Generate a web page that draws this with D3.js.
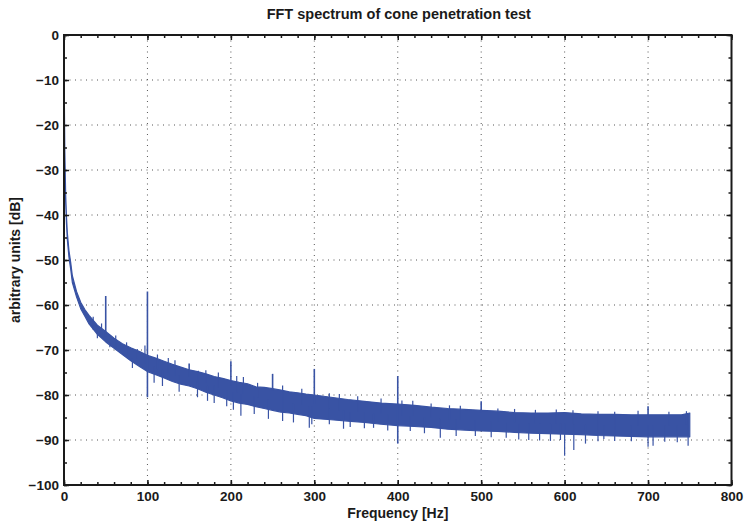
<!DOCTYPE html>
<html>
<head>
<meta charset="utf-8">
<script src="https://cdn.jsdelivr.net/npm/d3@7"></script>
<style>
  body { margin: 0; background: #fff; }
  svg text { font-family: "Liberation Sans", Arial, sans-serif; font-weight: bold; fill: #1a1a1a; }
</style>
</head>
<body>
<svg id="chart" width="745" height="521"></svg>
<script>
'use strict';

// spectrum band: top and bottom of the noise band
const ENV_FREQ = [0, 0.5, 1, 2, 3, 4, 6, 8, 10, 15, 20, 25, 30, 40, 50, 60, 70, 80, 90, 100,
    110, 120, 130, 140, 150, 160, 170, 180, 190, 200, 210, 220, 230, 240, 250, 260, 270, 280, 290, 300,
    320, 340, 360, 380, 400, 420, 440, 460, 480, 500, 520, 540, 560, 580, 600, 620, 640, 660, 680, 700,
    720, 740, 750];
const ENV_UPPER = [0, -16, -26, -35.5, -40.5, -44, -48, -50.5, -53.5, -57, -59.4, -61, -62.3, -64.5, -65.9, -67.4, -68.6, -69.5, -70.3, -71.2,
    -71.8, -72.5, -73.2, -73.8, -74.4, -74.8, -75.3, -75.9, -76.3, -76.8, -77.2, -77.5, -78.2, -78.3, -78.6, -78.9, -79.3, -79.5, -79.8, -80.0,
    -80.5, -81.0, -81.4, -81.8, -82.0, -82.3, -82.7, -83.0, -83.2, -83.4, -83.6, -83.9, -84.0, -84.0, -83.9, -84.2, -84.3, -84.3, -84.4, -84.4,
    -84.4, -84.4, -84.0];
const ENV_LOWER = [0, -18, -28, -37, -42, -45.5, -49.5, -52, -55, -58.2, -60.8, -62.5, -64.2, -66.5, -68.2, -69.6, -71.0, -72.4, -73.6, -74.8,
    -75.5, -76.2, -77, -77.6, -78, -78.6, -79.4, -80, -80.6, -81.3, -81.8, -82.1, -82.6, -83, -83.4, -83.8, -84, -84.3, -84.6, -85.2,
    -85.5, -85.8, -86.1, -86.5, -86.8, -87, -87.2, -87.6, -87.8, -88, -88.1, -88.3, -88.5, -88.6, -88.7, -88.8, -89.0, -89.1, -89.2, -89.3,
    -89.3, -89.3, -89.3];

// harmonic lines: [freq, top dB, bottom dB]
const SPIKES = [
    [50, -58, -67], [100, -57, -80.5], [150, -73, -76], [200, -72.5, -78], [250, -75.3, -79],
    [300, -74.2, -82], [400, -75.8, -90.8], [500, -81.4, -84], [700, -82.5, -85]
];
// downward outliers: [freq, lowest dB]
const DIPS = [
    [40, -67.4], [55, -69.4], [82, -74], [108, -77.3], [118, -78], [138, -79.3], [160, -80.5], [172, -81.3],
    [180, -81.8], [195, -82.5], [203, -83.3], [212, -84.6], [228, -84.2], [245, -85.3], [262, -85.8],
    [275, -86.1], [294, -87.3], [297, -86.5], [318, -86.5], [335, -87.5], [343, -87.1], [360, -87.4],
    [371, -87.3], [388, -87.9], [415, -88], [432, -88.5], [451, -89.5], [470, -89.1], [493, -89.1],
    [512, -89.4], [530, -89.5], [545, -89.9], [557, -90], [570, -90.1], [583, -90.2], [595, -90],
    [600, -93.5], [611, -92.2], [625, -90.8], [640, -90.3], [647, -89.8], [660, -90.2], [680, -90.3],
    [700, -91.5], [706, -91.3], [720, -90.4], [735, -90.5], [748, -91.3]
];
// upward outliers: [freq, highest dB]
const PEAKS = [
    [35, -62.6], [45, -64.1], [62, -66.8], [75, -68.3], [88, -69.8], [97, -69.0], [112, -71], [125, -71.8],
    [133, -72.3], [161, -74.6], [170, -74.5], [185, -75], [207, -75.8], [215, -76], [232, -77.3],
    [262, -77.9], [285, -78.6], [318, -79.6], [330, -79.8], [352, -80.3], [380, -80.8], [405, -81.2],
    [418, -81.3], [440, -81.9], [462, -82.3], [475, -82.4], [520, -83], [540, -83.1], [565, -83.3],
    [590, -83.2], [610, -83.4], [640, -83.6], [660, -83.7], [688, -83.5], [725, -83.7], [746, -83.6]
];

const X_TICKS = [0, 100, 200, 300, 400, 500, 600, 700, 800];
const Y_TICKS = [0, -10, -20, -30, -40, -50, -60, -70, -80, -90, -100];

const TITLE = 'FFT spectrum of cone penetration test';
const X_LABEL = 'Frequency [Hz]';
const Y_LABEL = 'arbitrary units [dB]';

const LINE_COLOR = '#3953a4';
const LEFT = 64, TOP = 35, RIGHT = 731.5, BOTTOM = 485;

const svg = d3.select('#chart');

const x = d3.scaleLinear().domain([0, 800]).range([LEFT, RIGHT]);
const y = d3.scaleLinear().domain([-100, 0]).range([BOTTOM, TOP]);

const minus = (v) => String(v).replace('-', '\u2212');

// grid
const grid = svg.append('g').attr('stroke', '#555').attr('stroke-width', 1).attr('stroke-dasharray', '1,4.5');
grid.selectAll('.gx').data(X_TICKS.slice(1, -1)).join('line')
    .attr('x1', (d) => x(d)).attr('x2', (d) => x(d)).attr('y1', TOP).attr('y2', BOTTOM);
grid.selectAll('.gy').data(Y_TICKS.slice(1, -1)).join('line')
    .attr('y1', (d) => y(d)).attr('y2', (d) => y(d)).attr('x1', LEFT).attr('x2', RIGHT);

// spectrum
const band = ENV_FREQ.map((f, i) => [f, ENV_UPPER[i], ENV_LOWER[i]]);
const plot = svg.append('g').attr('stroke', LINE_COLOR).attr('fill', LINE_COLOR);
plot.append('path')
    .datum(band)
    .attr('stroke-width', 1.2)
    .attr('stroke-linejoin', 'round')
    .attr('d', d3.area().x((d) => x(d[0])).y0((d) => y(d[2])).y1((d) => y(d[1])));

const mid = (f) => {
    const i = d3.bisectLeft(ENV_FREQ, f);
    return (ENV_UPPER[i] + ENV_LOWER[i]) / 2;
};
plot.selectAll('.spike').data(SPIKES).join('line')
    .attr('stroke-width', 1.6)
    .attr('x1', (d) => x(d[0])).attr('x2', (d) => x(d[0]))
    .attr('y1', (d) => y(d[1])).attr('y2', (d) => y(d[2]));
plot.selectAll('.dip').data(DIPS).join('line')
    .attr('stroke-width', 1.2)
    .attr('x1', (d) => x(d[0])).attr('x2', (d) => x(d[0]))
    .attr('y1', (d) => y(mid(d[0]))).attr('y2', (d) => y(d[1]));
plot.selectAll('.peak').data(PEAKS).join('line')
    .attr('stroke-width', 1.2)
    .attr('x1', (d) => x(d[0])).attr('x2', (d) => x(d[0]))
    .attr('y1', (d) => y(mid(d[0]))).attr('y2', (d) => y(d[1]));

// axes: major + minor ticks, mirrored on all sides
const styleAxis = (g) => {
    g.select('.domain').remove();
    g.selectAll('line').attr('stroke', '#1a1a1a').attr('stroke-width', 1.5);
    g.selectAll('text').attr('font-size', 13.5).attr('fill', '#1a1a1a');
};
const minorX = d3.range(0, 801, 20);
const minorY = d3.range(-100, 1, 5);

svg.append('g').attr('transform', `translate(0,${BOTTOM})`)
    .call(d3.axisBottom(x).tickValues(X_TICKS).tickSize(-5).tickPadding(6).tickFormat(minus)).call(styleAxis);
svg.append('g').attr('transform', `translate(0,${BOTTOM})`)
    .call(d3.axisBottom(x).tickValues(minorX).tickSize(-3).tickFormat('')).call(styleAxis);
svg.append('g').attr('transform', `translate(0,${TOP})`)
    .call(d3.axisTop(x).tickValues(X_TICKS).tickSize(-5).tickFormat('')).call(styleAxis);
svg.append('g').attr('transform', `translate(0,${TOP})`)
    .call(d3.axisTop(x).tickValues(minorX).tickSize(-3).tickFormat('')).call(styleAxis);
svg.append('g').attr('transform', `translate(${LEFT},0)`)
    .call(d3.axisLeft(y).tickValues(Y_TICKS).tickSize(-5).tickPadding(5).tickFormat(minus)).call(styleAxis);
svg.append('g').attr('transform', `translate(${LEFT},0)`)
    .call(d3.axisLeft(y).tickValues(minorY).tickSize(-3).tickFormat('')).call(styleAxis);
svg.append('g').attr('transform', `translate(${RIGHT},0)`)
    .call(d3.axisRight(y).tickValues(Y_TICKS).tickSize(-5).tickFormat('')).call(styleAxis);
svg.append('g').attr('transform', `translate(${RIGHT},0)`)
    .call(d3.axisRight(y).tickValues(minorY).tickSize(-3).tickFormat('')).call(styleAxis);

// box
svg.append('rect')
    .attr('x', LEFT).attr('y', TOP).attr('width', RIGHT - LEFT).attr('height', BOTTOM - TOP)
    .attr('fill', 'none').attr('stroke', '#1a1a1a').attr('stroke-width', 2);

// texts
svg.append('text').attr('x', (LEFT + RIGHT) / 2 + 1).attr('y', 19).attr('text-anchor', 'middle')
    .attr('font-size', 14.5).text(TITLE);
svg.append('text').attr('x', (LEFT + RIGHT) / 2).attr('y', 518).attr('text-anchor', 'middle')
    .attr('font-size', 14).text(X_LABEL);
svg.append('text').attr('transform', `translate(20,${(TOP + BOTTOM) / 2}) rotate(-90)`)
    .attr('text-anchor', 'middle').attr('font-size', 14).text(Y_LABEL);
</script>
</body>
</html>
